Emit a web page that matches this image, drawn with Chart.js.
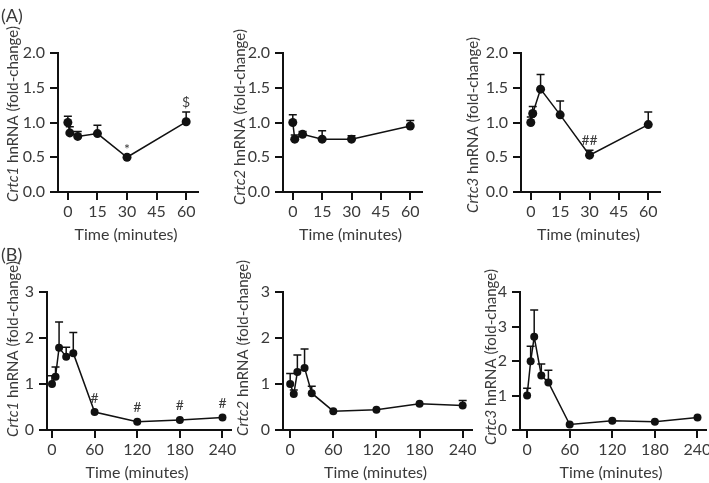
<!DOCTYPE html>
<html>
<head>
<meta charset="utf-8">
<script src="https://cdn.jsdelivr.net/npm/chart.js@4.4.1/dist/chart.umd.min.js"></script>
<style>
  html, body { margin: 0; padding: 0; background: #fff; overflow: hidden; }
  #wrap { position: relative; width: 709px; height: 483px; }
  #wrap canvas { position: absolute; }
  .tag { position: absolute; font-family: Lato, sans-serif; font-size: 18px; line-height: 1; color: #3a3a3a; }
</style>
</head>
<body>
<div id="wrap"></div>
<script>
// time points (minutes) and axis ticks
const timesA = [0, 1, 5, 15, 30, 60];
const timesB = [0, 5, 10, 20, 30, 60, 120, 180, 240];
const ticksA = [0, 15, 30, 45, 60];
const ticksB = [0, 60, 120, 180, 240];

// (A) 0-60 min, mean fold-change and SEM (upper bar only)
const crtc1A = [1.00, 0.85, 0.80, 0.84, 0.50, 1.01];
const crtc1AErr = [0.09, 0.09, 0.07, 0.12, 0.03, 0.14];
const crtc1AMarks = ['', '', '', '', '*', '$'];
const crtc2A = [1.00, 0.76, 0.83, 0.76, 0.76, 0.95];
const crtc2AErr = [0.11, 0.06, 0.04, 0.12, 0.05, 0.08];
const crtc3A = [1.00, 1.13, 1.48, 1.11, 0.53, 0.97];
const crtc3AErr = [0.08, 0.10, 0.21, 0.20, 0.07, 0.18];
const crtc3AMarks = ['', '', '', '', '##', ''];

// (B) 0-240 min
const crtc1B = [1.00, 1.16, 1.79, 1.59, 1.67, 0.39, 0.18, 0.22, 0.27];
const crtc1BErr = [0.18, 0.21, 0.56, 0.21, 0.45, 0, 0, 0, 0];
const crtc1BMarks = ['', '', '', '', '', '#', '#', '#', '#'];
const crtc2B = [1.00, 0.78, 1.26, 1.35, 0.80, 0.41, 0.44, 0.57, 0.53];
const crtc2BErr = [0.23, 0.09, 0.37, 0.41, 0.15, 0, 0, 0, 0.11];
const crtc3B = [1.00, 1.99, 2.70, 1.58, 1.38, 0.16, 0.27, 0.24, 0.36];
const crtc3BErr = [0.21, 0.44, 0.78, 0.33, 0.35, 0, 0, 0, 0];

const fam = 'Lato, sans-serif';
const textColor = '#3a3a3a';
const ink = '#111';

// L/R/T/B = plot box in page px, tx/ty = centre of the y title
const panels = [
  { gene: 'Crtc1', t: timesA, v: crtc1A, e: crtc1AErr, m: crtc1AMarks, xt: ticksA, xMin: -5, xMax: 66, yMax: 2, yStep: 0.5, dec: 1, L: 58, R: 198, T: 53, B: 192, tx: 13, ty: 114, r: 4.5 },
  { gene: 'Crtc2', t: timesA, v: crtc2A, e: crtc2AErr, m: [], xt: ticksA, xMin: -5, xMax: 66, yMax: 2, yStep: 0.5, dec: 1, L: 283, R: 422, T: 53, B: 192, tx: 240, ty: 117, r: 4.5 },
  { gene: 'Crtc3', t: timesA, v: crtc3A, e: crtc3AErr, m: crtc3AMarks, xt: ticksA, xMin: -5, xMax: 66, yMax: 2, yStep: 0.5, dec: 1, L: 521, R: 660, T: 53, B: 192, tx: 473, ty: 125, r: 4.5 },
  { gene: 'Crtc1', t: timesB, v: crtc1B, e: crtc1BErr, m: crtc1BMarks, xt: ticksB, xMin: -7, xMax: 252, yMax: 3, yStep: 1, dec: 0, L: 47, R: 231, T: 292, B: 430, tx: 13, ty: 349, r: 4 },
  { gene: 'Crtc2', t: timesB, v: crtc2B, e: crtc2BErr, m: [], xt: ticksB, xMin: -10, xMax: 253, yMax: 3, yStep: 1, dec: 0, L: 283, R: 472, T: 292, B: 430, tx: 243, ty: 348, r: 4 },
  { gene: 'Crtc3', t: timesB, v: crtc3B, e: crtc3BErr, m: [], xt: ticksB, xMin: -10, xMax: 252, yMax: 4, yStep: 1, dec: 0, L: 520, R: 706, T: 292, B: 430, tx: 491, ty: 357, r: 4 }
];

function extras(p, cl, ct) {
  return {
    id: 'extras',
    beforeDatasetsDraw(chart) {
      const ctx = chart.ctx, xs = chart.scales.x, ys = chart.scales.y;
      ctx.save();
      ctx.strokeStyle = ink;
      ctx.lineWidth = 1.5;
      p.t.forEach((t, i) => {
        if (!p.e[i]) return;
        const x = xs.getPixelForValue(t);
        const y0 = ys.getPixelForValue(p.v[i]);
        const y1 = ys.getPixelForValue(p.v[i] + p.e[i]);
        ctx.beginPath();
        ctx.moveTo(x, y0); ctx.lineTo(x, y1);
        ctx.moveTo(x - 4, y1); ctx.lineTo(x + 4, y1);
        ctx.stroke();
      });
      ctx.restore();
    },
    afterDraw(chart) {
      const ctx = chart.ctx, xs = chart.scales.x, ys = chart.scales.y;
      ctx.save();
      ctx.fillStyle = textColor;
      ctx.textAlign = 'center';
      ctx.textBaseline = 'middle';
      // significance marks
      ctx.font = '14px ' + fam;
      p.m.forEach((s, i) => {
        if (!s) return;
        const x = xs.getPixelForValue(p.t[i]);
        let top = ys.getPixelForValue(p.v[i]) - p.r;
        if (p.e[i]) top = Math.min(top, ys.getPixelForValue(p.v[i] + p.e[i]));
        ctx.fillText(s, x, top - (s === '*' ? 3 : 10));
      });
      // x title
      ctx.font = '16px ' + fam;
      ctx.fillText('Time (minutes)', (p.L + p.R) / 2 - 2 - cl, p.B + 43 - ct);
      // y title, gene name in italics
      const parts = [[p.gene, 'italic 15px ' + fam], [' hnRNA (fold-change)', '15px ' + fam]];
      let total = 0;
      parts.forEach(q => { ctx.font = q[1]; total += ctx.measureText(q[0]).width; });
      ctx.translate(p.tx - cl + 5, p.ty - ct);
      ctx.rotate(-Math.PI / 2);
      ctx.textAlign = 'left';
      ctx.textBaseline = 'alphabetic';
      let x = -total / 2;
      parts.forEach(q => { ctx.font = q[1]; ctx.fillText(q[0], x, 0); x += ctx.measureText(q[0]).width; });
      ctx.restore();
    }
  };
}

const wrap = document.getElementById('wrap');
panels.forEach(p => {
  const padT = 45, padR = 16, padB = 56;
  const cl = p.tx - 12, ct = p.T - padT;
  const padL = p.L - cl;
  const cv = document.createElement('canvas');
  cv.width = padL + (p.R - p.L) + padR;
  cv.height = padT + (p.B - p.T) + padB;
  cv.style.left = cl + 'px';
  cv.style.top = ct + 'px';
  wrap.appendChild(cv);

  const yTicks = [];
  for (let y = 0; y <= p.yMax + 1e-9; y += p.yStep) yTicks.push(+y.toFixed(2));

  new Chart(cv.getContext('2d'), {
    type: 'scatter',
    data: {
      datasets: [{
        data: p.t.map((t, i) => ({ x: t, y: p.v[i] })),
        showLine: true,
        borderColor: ink,
        borderWidth: 1.5,
        pointRadius: p.r,
        pointBackgroundColor: ink,
        pointBorderWidth: 0,
        clip: false
      }]
    },
    options: {
      responsive: false,
      animation: false,
      layout: { padding: { top: padT, right: padR, left: 0, bottom: 0 } },
      plugins: { legend: { display: false }, tooltip: { enabled: false } },
      scales: {
        x: {
          type: 'linear', min: p.xMin, max: p.xMax,
          afterBuildTicks: s => { s.ticks = p.xt.map(v => ({ value: v })); },
          afterFit: s => { s.height = padB; },
          grid: { drawOnChartArea: false, drawTicks: true, tickLength: 8, color: ink, lineWidth: 2 },
          border: { color: ink, width: 2 },
          ticks: { color: textColor, font: { family: fam, size: 16 }, padding: 2, maxRotation: 0, autoSkip: false }
        },
        y: {
          min: 0, max: p.yMax,
          afterBuildTicks: s => { s.ticks = yTicks.map(v => ({ value: v })); },
          afterFit: s => { s.width = padL; },
          grid: { drawOnChartArea: false, drawTicks: true, tickLength: 8, color: ink, lineWidth: 2 },
          border: { color: ink, width: 2 },
          ticks: { color: textColor, font: { family: fam, size: 16 }, padding: 5, callback: v => v.toFixed(p.dec) }
        }
      }
    },
    plugins: [extras(p, cl, ct)]
  });
});

// panel letters, added last so they sit above the canvases
[['(A)', 6], ['(B)', 245]].forEach(([txt, top]) => {
  const d = document.createElement('div');
  d.className = 'tag';
  d.style.left = '1px';
  d.style.top = top + 'px';
  d.textContent = txt;
  wrap.appendChild(d);
});
</script>
</body>
</html>
